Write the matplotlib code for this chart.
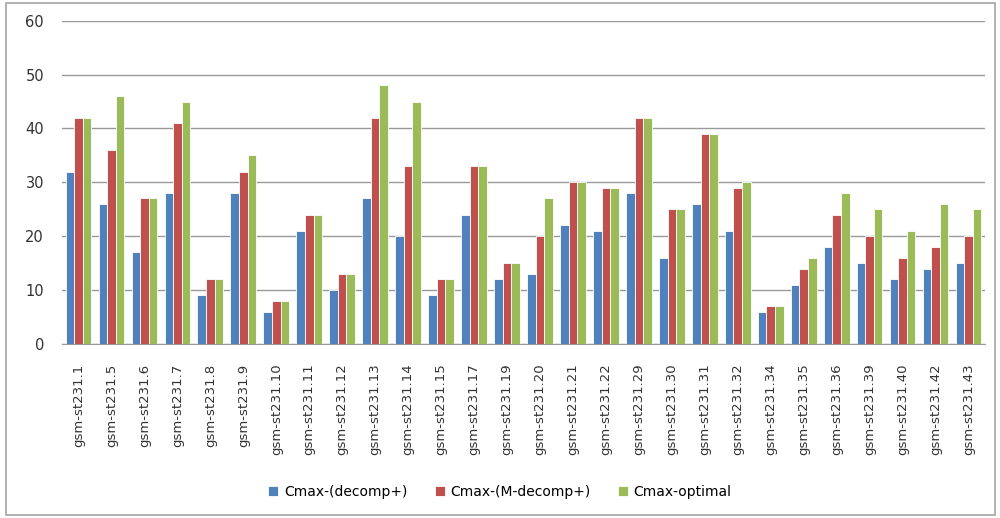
import matplotlib.pyplot as plt
import numpy as np
from matplotlib.patches import Rectangle

labels = ['gsm-st231.1', 'gsm-st231.5', 'gsm-st231.6', 'gsm-st231.7', 'gsm-st231.8',
          'gsm-st231.9', 'gsm-st231.10', 'gsm-st231.11', 'gsm-st231.12', 'gsm-st231.13',
          'gsm-st231.14', 'gsm-st231.15', 'gsm-st231.17', 'gsm-st231.19', 'gsm-st231.20',
          'gsm-st231.21', 'gsm-st231.22', 'gsm-st231.29', 'gsm-st231.30', 'gsm-st231.31',
          'gsm-st231.32', 'gsm-st231.34', 'gsm-st231.35', 'gsm-st231.36', 'gsm-st231.39',
          'gsm-st231.40', 'gsm-st231.42', 'gsm-st231.43']
decomp = [32, 26, 17, 28, 9, 28, 6, 21, 10, 27, 20, 9, 24, 12, 13, 22, 21, 28, 16, 26,
          21, 6, 11, 18, 15, 12, 14, 15]
m_decomp = [42, 36, 27, 41, 12, 32, 8, 24, 13, 42, 33, 12, 33, 15, 20, 30, 29, 42, 25, 39,
            29, 7, 14, 24, 20, 16, 18, 20]
optimal = [42, 46, 27, 45, 12, 35, 8, 24, 13, 48, 45, 12, 33, 15, 27, 30, 29, 42, 25, 39,
           30, 7, 16, 28, 25, 21, 26, 25]

series = [('Cmax-(decomp+)', decomp, '#4F81BD'),
          ('Cmax-(M-decomp+)', m_decomp, '#C0504D'),
          ('Cmax-optimal', optimal, '#9BBB59')]

fig = plt.figure(figsize=(10, 5.18), dpi=100)
fig.patches.append(Rectangle((0.006, 0.006), 0.989, 0.988, transform=fig.transFigure,
                             fill=False, edgecolor='#a6a6a6', linewidth=1.2))
ax = fig.add_axes([0.062, 0.336, 0.923, 0.624])

x = np.arange(len(labels))
w = 0.26
for i, (name, vals, col) in enumerate(series):
    ax.bar(x + (i - 1) * w, vals, width=w, color=col, edgecolor='white',
           linewidth=0.6, label=name, zorder=3)

ax.set_xlim(-0.5, len(labels) - 0.5)
ax.set_ylim(0, 60)
ax.set_yticks(range(0, 61, 10))
ax.yaxis.grid(True, color='#999999', linewidth=1, zorder=0)
ax.set_xticks(x)
ax.set_xticklabels(labels, rotation=90, fontsize=9.5, color='#333333')
ax.tick_params(axis='x', length=0, pad=14)
ax.tick_params(axis='y', length=0, labelsize=10.5, pad=13, labelcolor='#333333')
for s in ['top', 'right', 'left']:
    ax.spines[s].set_visible(False)
ax.spines['bottom'].set_color('#999999')

ax.legend(loc='center', bbox_to_anchor=(0.5, 0.05), bbox_transform=fig.transFigure,
          ncol=3, frameon=False, fontsize=10, handlelength=0.7, handleheight=0.7,
          columnspacing=2.0, handletextpad=0.4)

fig.savefig('out.png', dpi=100)
